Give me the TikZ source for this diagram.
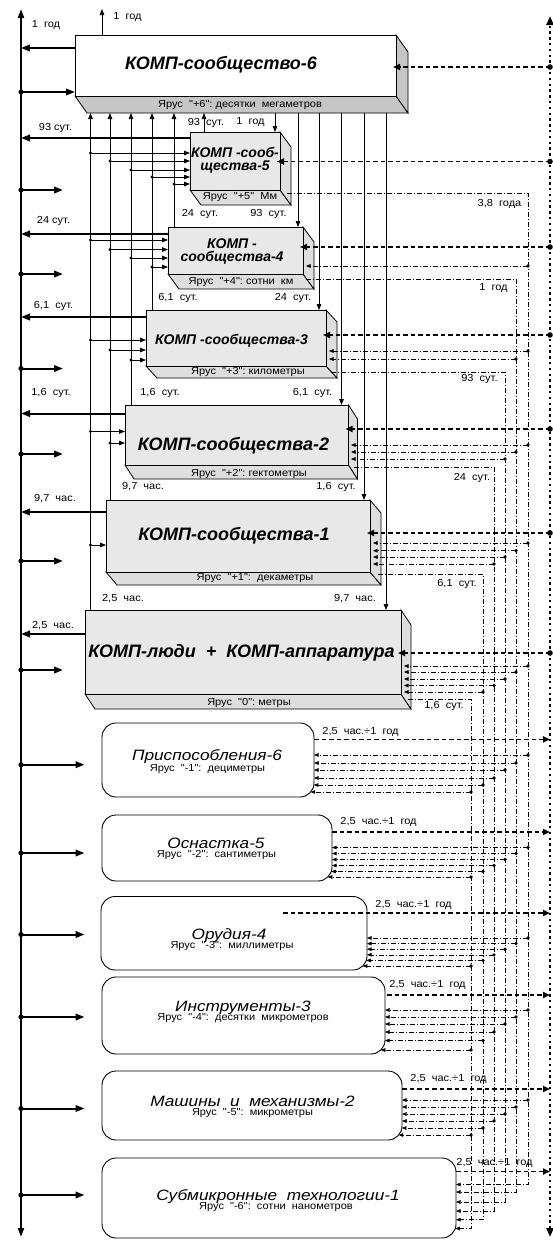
\documentclass[tikz,border=0pt]{standalone}
\usepackage{fontspec}
\setmainfont{Liberation Sans}
\newfontfamily\lblfam{Liberation Sans}[FakeStretch=1.08]
\newfontfamily\rndfam{Liberation Sans}[FakeStretch=1.15]
\usetikzlibrary{arrows.meta,fit}
\newcommand\lblf{\lblfam\fontsize{10.2}{12}\selectfont}
\newcommand\bigt{\fontsize{18}{20}\selectfont\bfseries\itshape}
\newcommand\midt{\fontsize{14}{13}\selectfont\bfseries\itshape}
\newcommand\rndt{\rndfam\fontsize{15}{17}\selectfont\itshape}
\newcommand\kbox[9]{%
  \filldraw[boxl,fill=#9] (#2,#5) -- (#4,#5) -- ({#4+#6},{#5+#7}) -- ({#2+#6},{#5+#7}) -- cycle;
  \filldraw[boxl,fill=#9] (#4,#3) -- ({#4+#6},{#3+#7}) -- ({#4+#6},{#5+#7}) -- (#4,#5) -- cycle;
  \filldraw[boxl,fill=#8] (#2,#3) rectangle (#4,#5);
  \coordinate (#1nw) at (#2,#3);
  \coordinate (#1se) at (#4,#5);
  \node[inner sep=0pt,outer sep=0pt,fit=(#1nw)(#1se)] (#1) {};}
\newcommand\rbox[5]{%
  \draw[rndl] (#2,#3) rectangle (#4,#5);
  \coordinate (#1nw) at (#2,#3);
  \coordinate (#1se) at (#4,#5);
  \node[inner sep=0pt,outer sep=0pt,fit=(#1nw)(#1se)] (#1) {};}
\tikzset{
  boxl/.style={draw=black,line width=0.8pt},
  rndl/.style={draw=black,line width=0.9pt,rounded corners=14pt},
  tarr/.style={line width=0.75pt,-{Triangle[length=6pt,width=4.6pt]}},
  barr/.style={line width=2pt,-{Triangle[length=9pt,width=6.5pt]}},
  ddl/.style={line width=0.6pt,dash pattern=on 5pt off 2pt on 1pt off 2pt},
  ddarr/.style={ddl,-{Triangle[length=4.5pt,width=3.6pt]}},
  hdarr/.style={line width=1.8pt,dash pattern=on 4.5pt off 3pt,-{Triangle[length=7pt,width=6pt]}},
  busl/.style={line width=2pt,{Triangle[length=9pt,width=6pt]}-{Triangle[length=9pt,width=6pt]}},
  rbusl/.style={line width=2.6pt,dash pattern=on 2.4pt off 3.4pt,{Triangle[length=9pt,width=7pt]}-{Triangle[length=9pt,width=7pt]}},
  lbl/.style={font=\lblf,inner sep=0pt},
  ttl/.style={inner sep=0pt},
  rtl/.style={font=\rndt,inner sep=0pt,anchor=base},
  rsl/.style={font=\lblf,inner sep=0pt,anchor=base},
}
\begin{document}
\begin{tikzpicture}[x=1pt,y=-1pt]
\useasboundingbox (0,0) rectangle (552,1240);
\fill[white] (0,0) rectangle (552,1240);
% ---------- 3D boxes
\kbox{b6}{75}{35}{396}{96}{12}{17}{white}{gray!45}
\kbox{b5}{190}{132}{280}{190}{11}{15}{gray!18}{gray!26}
\kbox{b4}{168}{227}{303}{274}{11}{15}{gray!18}{gray!26}
\kbox{b3}{146}{310}{326}{366}{11}{12}{gray!18}{gray!26}
\kbox{b2}{125}{405}{348.5}{465}{9}{14}{gray!18}{gray!26}
\kbox{b1}{106}{500}{370}{572}{11}{13}{gray!18}{gray!26}
\kbox{b0}{85}{610}{401}{694}{10}{15}{gray!18}{gray!26}
% ---------- rounded boxes
\rbox{r1}{102}{723}{314}{797}
\rbox{r2}{102}{815}{332}{881}
\rbox{r3}{101}{896.5}{367}{970}
\rbox{r4}{102}{977}{385}{1054}
\rbox{r5}{102}{1071}{402}{1140}
\rbox{r6}{102}{1158}{456}{1238}
% ---------- titles
\node[font=\bigt,ttl] (t6) at (221,65) {КОМП-сообщество-6};
\node[font=\midt,ttl,align=center] (t5) at (235,160) {КОМП -сооб-\\щества-5};
\node[font=\midt,ttl,align=center] (t4) at (232,251.5) {КОМП -\\сообщества-4};
\node[font=\midt,ttl] (t3) at (231.5,341) {КОМП -сообщества-3};
\node[font=\bigt,ttl] (t2) at (233.5,446) {КОМП-сообщества-2};
\node[font=\bigt,ttl] (t1) at (234,536) {КОМП-сообщества-1};
\node[font=\bigt,ttl] (t0) at (241.5,653) {КОМП-люди\ \ +\ \ КОМП-аппаратура};
\node[lbl] (s6) at (240,105) {Ярус\ \ "+6":\ десятки\ \ мегаметров};
\node[lbl] (s5) at (240,197.5) {Ярус\ \ "+5"\ \ Мм};
\node[lbl] (s4) at (241,282) {Ярус\ \ "+4":\ сотни\ \ км};
\node[lbl] (s3) at (248,372) {Ярус\ \ "+3":\ километры};
\node[lbl] (s2) at (249,473.5) {Ярус\ \ "+2":\ гектометры};
\node[lbl] (s1) at (255,578.5) {Ярус\ \ "+1":\ \ декаметры};
\node[lbl] (s0) at (249,702.5) {Ярус\ \ "0":\ метры};
\node[rtl] (rt1) at (207,760.5) {Приспособления-6};
\node[rsl] (rs1) at (207.5,771) {Ярус\ \ "-1":\ \ дециметры};
\node[rtl] (rt2) at (216,848) {Оснастка-5};
\node[rsl] (rs2) at (216.5,857.5) {Ярус\ \ "-2":\ \ сантиметры};
\node[rtl] (rt3) at (229,939.5) {Орудия-4};
\node[rsl] (rs3) at (232,948.5) {Ярус\ \ "-3":\ \ миллиметры};
\node[rtl] (rt4) at (243,1011) {Инструменты-3};
\node[rsl] (rs4) at (243,1020.5) {Ярус\ \ "-4":\ \ десятки\ \ микрометров};
\node[rtl] (rt5) at (252.5,1106.5) {Машины\ \ и\ \ механизмы-2};
\node[rsl] (rs5) at (252.5,1115.5) {Ярус\ \ "-5":\ \ микрометры};
\node[rtl] (rt6) at (278,1200) {Субмикронные\ \ технологии-1};
\node[rsl] (rs6) at (276,1209) {Ярус\ \ "-6":\ \ сотни\ \ нанометров};
% ---------- left bus
\coordinate (LBt) at (21,9);
\coordinate (LBb) at (21,1237);
\draw[busl] (LBb) -- (LBt);
\foreach \b/\y in {b6/48,b5/138,b4/234,b3/317,b2/413.5,b1/512,b0/634}
  \draw[barr] (\b.west |- 0,\y) -- (LBt |- 0,\y);
\foreach \y/\x in {92/75,190/63,274/63,368.5/63,454/63,561/63,670/63,764.7/84.5,853/84.5,934.5/84.5,1017/84.5,1108.5/84.5,1195/84.5}
  {\draw[barr] (LBt |- 0,\y) -- (\x,\y);
   \fill (LBt |- 0,\y) circle[radius=2.6pt];}
\node[lbl] (lb6) at (46,25) {1\ \ год};
\node[lbl] (lb5) at (55.5,128) {93\ сут.};
\node[lbl] (lb4) at (53.5,221) {24\ сут.};
\node[lbl] (lb3) at (53.5,306) {6,1\ \ сут.};
\node[lbl] (lb2) at (51,393) {1,6\ \ сут.};
\node[lbl] (lb1) at (55,499) {9,7\ \ час.};
\node[lbl] (lb0) at (53,626) {2,5\ \ час.};
% top arrow of box 6
\coordinate (T6) at (102,9);
\draw[tarr] (b6.north -| T6) -- (T6);
\node[lbl] (lt6) at (127.5,17) {1\ \ год};
% ---------- up lines (L) and down lines (D)
\coordinate (b6bot) at (0,113);
\foreach \x/\b in {90.5/b0,110/b1,131/b2,152/b3,174/b4,204/b5}
  \draw[tarr] (\b.north -| \x,0) -- (b6bot -| \x,0);
\foreach \x/\y/\b in {90.5/153/b5,110/161/b5,131/170/b5,152/177/b5,174/184/b5,
  90.5/240/b4,110/249.5/b4,131/258/b4,152/267/b4,
  90.5/340/b3,110/350/b3,131/360/b3,
  90.5/431.5/b2,110/443/b2,
  90.5/545/b1}
  {\draw[tarr] (\x,\y) -- (\b.west |- 0,\y);
   \fill (\x,\y) circle[radius=1.7pt];}
\foreach \x/\b in {275/b5,298/b4,319/b3,341.5/b2,364/b1,386/b0}
  \draw[tarr] (b6bot -| \x,0) -- (\b.north -| \x,0);
\node[lbl] (u5) at (206,123) {93\ \ сут.};
\node[lbl] (d5) at (250.5,122) {1\ \ год};
\node[lbl] (u4) at (200,214) {24\ \ сут.};
\node[lbl] (d4) at (268.5,214) {93\ \ сут.};
\node[lbl] (u3) at (178,298) {6,1\ \ сут.};
\node[lbl] (d3) at (293,298) {24\ \ сут.};
\node[lbl] (u2) at (160,393) {1,6\ \ сут.};
\node[lbl] (d2) at (312.5,393) {6,1\ \ сут.};
\node[lbl] (u1) at (143,487) {9,7\ \ час.};
\node[lbl] (d1) at (336,487) {1,6\ \ сут.};
\node[lbl] (u0) at (123,599) {2,5\ \ час.};
\node[lbl] (d0) at (355,599) {9,7\ \ час.};
% ---------- right bus
\coordinate (RBt) at (550,16);
\coordinate (RBb) at (550,1237);
\draw[rbusl] (RBb) -- (RBt);
\foreach \b/\y in {b6/67,b5/161.5,b4/247,b3/335,b2/429,b1/533,b0/653}
  {\draw[hdarr,shorten >=-3pt] (RBt |- 0,\y) -- (\b.east |- 0,\y);
   \fill (RBt |- 0,\y) circle[radius=2.8pt];}
\foreach \x/\y in {314/739.4,332/832,283/913,387/995,402/1089,456/1171.5}
  \draw[hdarr] (\x,\y) -- (RBt |- 0,\y);
\node[lbl] (q1) at (360.5,732) {2,5\ \ час.÷1\ \ год};
\node[lbl] (q2) at (378.5,822) {2,5\ \ час.÷1\ \ год};
\node[lbl] (q3) at (413.5,904.5) {2,5\ \ час.÷1\ \ год};
\node[lbl] (q4) at (427.5,985) {2,5\ \ час.÷1\ \ год};
\node[lbl] (q5) at (448.5,1078.5) {2,5\ \ час.÷1\ \ год};
\node[lbl] (q6) at (494.5,1162.5) {2,5\ \ час.÷1\ \ год};
% ---------- dash-dot verticals
\foreach \sx/\sy/\vx/\ey/\ex in {287/193/528/1184.5/456, 306/279/516/1192/456, 331/372/505/1202/456, 354/467/494/1211/456, 378/574/483/1219.7/456, 408/699/471/1228.5/455.3}
  \draw[ddarr] (\sx,\sy) -- (\vx,\sy) -- (\vx,\ey) -- (\ex,\ey);
\foreach \vx/\y/\ex in {528/266/306, 528/351/329, 516/359/329,
  528/445/351, 516/452/351, 505/459/351,
  528/543/373, 516/550.7/373, 505/557/373, 494/564/373,
  528/666/404, 516/672/404, 505/679/404, 494/685.5/404, 483/692/404,
  528/755/314, 516/763/314, 505/770/314, 494/778/314, 483/785/313.9, 471/792/310.7,
  528/847.5/332, 516/853.5/332, 505/859.5/332, 494/865.5/332, 483/871.5/331.3, 471/877/327.8,
  528/938/367, 516/943.6/367, 505/949.2/367, 494/954.8/367, 483/960.4/366.3, 471/966/362.8,
  528/1010/385, 516/1017/385, 505/1024/385, 494/1032/385, 483/1040.5/385, 471/1050/380.8,
  528/1100/402, 516/1107/402, 505/1114/402, 494/1121/402, 483/1128/401.9, 471/1135/398.7}
  {\draw[ddarr] (\vx,\y) -- (\ex,\y);
   \fill (\vx,\y) circle[radius=1.8pt];}
\node[lbl] (v5) at (499.5,204) {3,8\ \ года};
\node[lbl] (v4) at (493.5,288) {1\ \ год};
\node[lbl] (v3) at (479.5,379) {93\ \ сут.};
\node[lbl] (v2) at (472,478) {24\ \ сут.};
\node[lbl] (v1) at (457,584) {6,1\ \ сут.};
\node[lbl] (v0) at (444,705.5) {1,6\ \ сут.};
\end{tikzpicture}
\end{document}
